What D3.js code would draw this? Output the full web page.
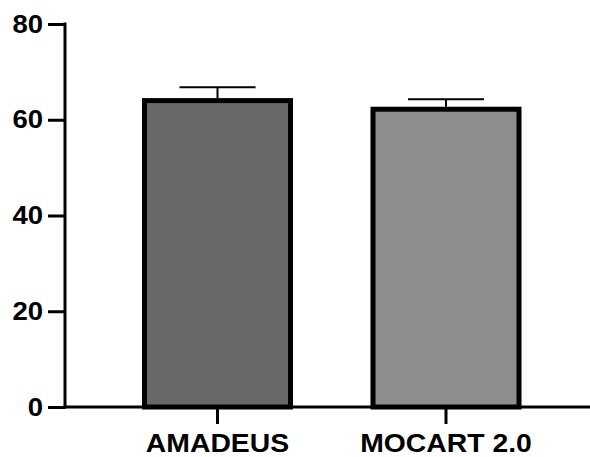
<!DOCTYPE html>
<html>
<head>
<meta charset="utf-8">
<script src="https://cdn.jsdelivr.net/npm/d3@7"></script>
<style>
  html, body { margin: 0; padding: 0; background: #fff; }
  svg { display: block; }
  .lbl { font-family: "Liberation Sans", Arial, sans-serif; font-weight: bold; fill: #000; }
</style>
</head>
<body>
<svg id="svg_bars" width="590" height="457"></svg>
<script>
// bar chart with SD error bars

const categories = ['AMADEUS', 'MOCART 2.0'];
const means = [64.0, 62.2];
const errors = [2.8, 2.1];
const fills = ['#686868', '#8d8d8d'];
const yTicks = [0, 20, 40, 60, 80];

const svg = d3.select('#svg_bars');

// scales
const xScale = d3.scaleBand()
                 .domain(categories)
                 .range([144.5, 519])
                 .paddingInner(0.361)
                 .paddingOuter(0);

const yScale = d3.scaleLinear()
                 .domain([0, 80])
                 .range([407, 24]);

const axisX = 65;

// the source image is a bit wider than tall, so stretch glyphs a little
function stretch(sel, k) {
    sel.each(function() {
        let w = this.getComputedTextLength();
        d3.select(this)
          .attr('textLength', w * k)
          .attr('lengthAdjust', 'spacingAndGlyphs');
    });
}

// bars
svg.append('g')
   .selectAll('rect')
   .data(categories)
   .join('rect')
   .attr('x', d => xScale(d))
   .attr('y', (d, i) => yScale(means[i]))
   .attr('width', xScale.bandwidth())
   .attr('height', (d, i) => yScale(0) - yScale(means[i]))
   .attr('fill', (d, i) => fills[i])
   .attr('stroke', '#000')
   .attr('stroke-width', 5);

// error bars (upper only)
const eb = svg.append('g').attr('stroke', '#000').attr('stroke-width', 2);
categories.forEach((c, i) => {
    let cx = xScale(c) + xScale.bandwidth() / 2;
    eb.append('line')
      .attr('x1', cx).attr('x2', cx)
      .attr('y1', yScale(means[i]) - 2.5)
      .attr('y2', yScale(means[i] + errors[i]));
    eb.append('line')
      .attr('x1', cx - 38).attr('x2', cx + 38)
      .attr('y1', yScale(means[i] + errors[i]))
      .attr('y2', yScale(means[i] + errors[i]));
});

// y axis
let yAxis = d3.axisLeft(yScale)
              .tickValues(yTicks)
              .tickSize(17)
              .tickPadding(5)
              .tickFormat(d => `${d}`);

let gy = svg.append('g')
            .attr('transform', `translate(${axisX}, 0)`)
            .call(yAxis);
gy.select('.domain').remove();
gy.selectAll('.tick line').attr('stroke', '#000').attr('stroke-width', 3);
gy.selectAll('.tick text')
  .attr('class', 'lbl')
  .style('font-size', '25px')
  .call(stretch, 1.1);
gy.append('line')
  .attr('x1', 0).attr('x2', 0)
  .attr('y1', yScale(80) - 1.5).attr('y2', yScale(0) + 1.5)
  .attr('stroke', '#000').attr('stroke-width', 3);

// x axis
let xAxis = d3.axisBottom(xScale)
              .tickSize(17)
              .tickPadding(10);

let gx = svg.append('g')
            .attr('transform', `translate(0, ${yScale(0)})`)
            .call(xAxis);
gx.select('.domain').remove();
gx.selectAll('.tick line').attr('stroke', '#000').attr('stroke-width', 3);
gx.selectAll('.tick text')
  .attr('class', 'lbl')
  .style('font-size', '26px')
  .call(stretch, 1.09);
gx.append('line')
  .attr('x1', axisX - 1.5).attr('x2', 590)
  .attr('y1', 0).attr('y2', 0)
  .attr('stroke', '#000').attr('stroke-width', 3);
</script>
</body>
</html>
